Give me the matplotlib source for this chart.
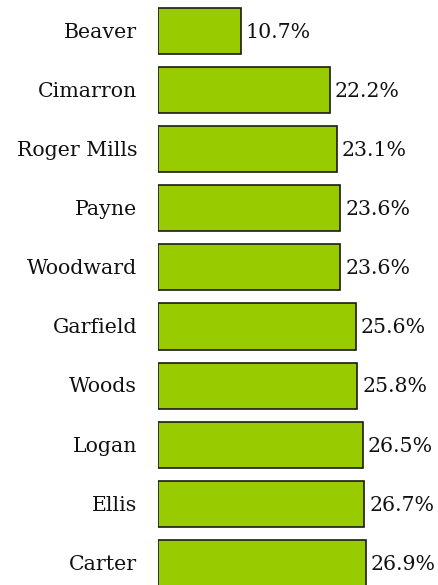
import matplotlib
matplotlib.use("Agg")
import matplotlib.pyplot as plt

categories = ["Beaver", "Cimarron", "Roger Mills", "Payne", "Woodward",
              "Garfield", "Woods", "Logan", "Ellis", "Carter"]
values = [10.7, 22.2, 23.1, 23.6, 23.6, 25.6, 25.8, 26.5, 26.7, 26.9]
value_labels = ["10.7%", "22.2%", "23.1%", "23.6%", "23.6%",
                "25.6%", "25.8%", "26.5%", "26.7%", "26.9%"]

plt.rcParams['font.family'] = ['DejaVu Serif']

W, H = 438, 585
fig = plt.figure(figsize=(W / 100, H / 100), dpi=100)
x0 = 158
ax = fig.add_axes([x0 / W, 0, 1 - x0 / W, 1])
ax.set_axis_off()

pos = list(range(len(categories)))
ax.barh(pos, values, height=0.78, color="#99CC00", edgecolor="#1a1a1a", linewidth=1.2)
ax.set_xlim(0, (W - x0) / 7.73)
row = 59.1
c0 = 31
ax.set_ylim((H - c0) / row, -c0 / row)

for p, v, lab in zip(pos, values, value_labels):
    ax.annotate(lab, (v, p), xytext=(3.5, -1), textcoords="offset points",
                va="center", ha="left", fontsize=14.8, color="#111111")
    ax.annotate(categories[p], (0, p), xytext=(-15, -1), textcoords="offset points",
                va="center", ha="right", fontsize=14.8, color="#111111",
                annotation_clip=False)

fig.savefig("out.png", dpi=100)
